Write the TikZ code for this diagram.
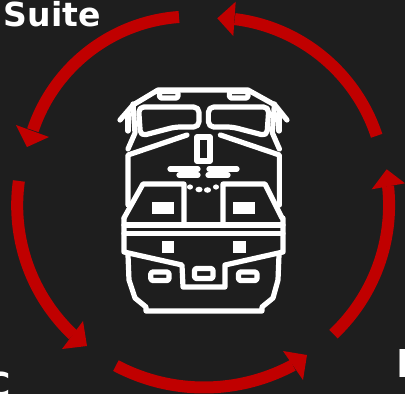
\documentclass[tikz,border=0pt]{standalone}
\usepackage{fontspec}
\setmainfont{DejaVu Sans}
\newcommand{\redarc}[5]{%
  \draw[redband] plot[domain=0:1,samples=50,variable=\t]
   ({203+(#3+(#4-#3)*\t+#5*4*\t*(1-\t))*cos(#1+(#2-#1)*\t)},
    {199+(#3+(#4-#3)*\t+#5*4*\t*(1-\t))*sin(#1+(#2-#1)*\t)});}
\begin{document}
\begin{tikzpicture}[x=0.75pt,y=-0.75pt,
  redband/.style={draw=arcred,line width=9pt,line cap=butt},
  headtip/.style={fill=arcred,draw=none},
  loco/.style={draw=white,line width=3.9pt,line join=round,line cap=round},
  lamp/.style={draw=white,line width=3.9pt,line join=round,rounded corners=1.2pt},
  solid box/.style={fill=white,draw=none},
  dot/.style={fill=white,draw=none},
  label/.style={text=white,font=\bfseries\fontsize{24.8pt}{28pt}\selectfont,inner sep=0pt,anchor=base west}]
\definecolor{arcred}{HTML}{C00000}
\definecolor{bgdark}{HTML}{1E1E1E}
\useasboundingbox (0,0) rectangle (405,394);
\clip (0,0) rectangle (405,394);
\fill[bgdark] (0,0) rectangle (405,394);
% cycle of arrows
\redarc{262.5}{202}{183.6}{183.5}{3}
\fill[headtip] (27,147) -- (16,125) -- (49,137) -- cycle;
\redarc{185.6}{133.7}{185}{188}{1}
\fill[headtip] (87,346) -- (83,321) -- (62,349) -- cycle;
\redarc{117.6}{61.6}{188}{189}{0}
\fill[headtip] (307,355) -- (283,351) -- (303,380) -- cycle;
\redarc{46}{-4}{187.8}{185.5}{1}
\fill[headtip] (386.7,169.3) -- (371.7,189.3) -- (405,183.3) -- cycle;
\redarc{-20}{-80}{184.8}{182.7}{2}
\fill[headtip] (217.3,18.3) -- (235.7,1.7) -- (233.3,36) -- cycle;
% locomotive: roof and mirrors
\draw[loco] (120,120) -- (133,105) -- (158,90) -- (248,90) -- (275,105) -- (287,120);
\draw[loco] (128,113) -- (128,131);
\draw[loco] (279,113) -- (279,131);
\draw[loco] (133,104) -- (135,133) -- (128,149);
\draw[loco] (274.4,104) -- (272.4,133) -- (279.4,149);
\draw[lamp] (159.5,91.5) rectangle (178,98);
\draw[lamp] (229.4,91.5) rectangle (248,98);
% windows
\draw[loco,rounded corners=4pt] (138.5,107) -- (199,107) -- (199,127) -- (175,127) -- (140.5,136) -- cycle;
\draw[loco,rounded corners=4pt] (268.9,107) -- (208.4,107) -- (208.4,127) -- (232.4,127) -- (266.9,136) -- cycle;
% body
\draw[loco] (187,135) -- (128,155) -- (128,205);
\draw[loco] (220.4,135) -- (279.4,155) -- (279.4,205);
\draw[loco] (197,137) rectangle (210,161);
\draw[loco] (170,169) -- (198,169);
\draw[loco] (209,169) -- (237,169);
\draw[loco] (179,175) -- (198,175);
\draw[loco] (208,175) -- (228,175);
\fill[dot] (190,187) ellipse (3 and 2.6);
\fill[dot] (199,189.5) ellipse (3.6 and 2.8);
\fill[dot] (207.5,190) ellipse (3.6 and 2.8);
\fill[dot] (216,187) ellipse (3 and 2.6);
% hood fronts
\draw[loco] (124,218) -- (143,184) -- (184,184) -- (184,223);
\draw[loco] (282,218) -- (265,184) -- (223,184) -- (223,223);
\fill[solid box] (152,202) rectangle (174,214);
\fill[solid box] (233,202) rectangle (255,214);
% bands
\draw[loco] (124,218) -- (124,252) -- (182,265) -- (183,287) -- (225,287) -- (225,265) -- (283,252) -- (283,218);
\draw[loco] (124,225) -- (283,225);
\draw[loco] (124,233.5) -- (283,233.5);
\fill[solid box] (162,241) rectangle (174,253);
\fill[solid box] (233,241) rectangle (246,253);
% lamps
\draw[lamp] (150.8,272) rectangle (169,280.5);
\draw[lamp] (194.5,268.5) rectangle (213,278.5);
\draw[lamp] (238.5,272) rectangle (257,280.5);
% lower body
\draw[loco] (128,255) -- (129,280) -- (135,298) -- (146,307) -- (146,311) -- (262,311) -- (262,307) -- (273,298) -- (278,280) -- (279,255);
% clipped labels
\node[label] (suite) at (3.5,26) {Suite};
\node[label] (cee) at (-14,396) {C};
\node[label,font=\bfseries\fontsize{28.8pt}{30pt}\selectfont] (eff) at (396.5,377) {F};
\end{tikzpicture}
\end{document}
